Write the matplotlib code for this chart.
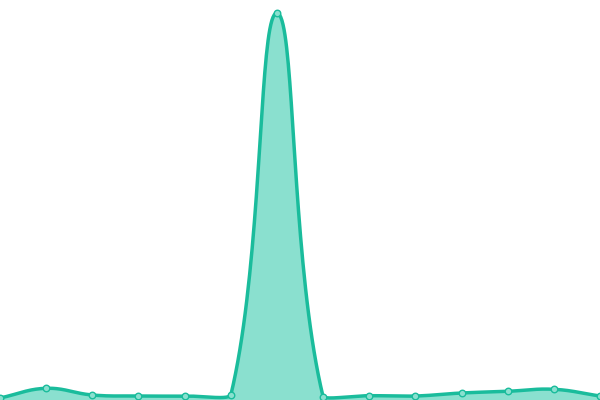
import numpy as np
import matplotlib
matplotlib.use("Agg")
import matplotlib.pyplot as plt

# values (one point per step)
steps = list(range(14))
values = [2, 11.7, 5, 4, 4, 4.7, 387, 3.3, 4.3, 4, 7, 8.7, 10.7, 4]

line_col = "#1abc9c"
fill_col = "#8ae0cf"

W, H = 600, 400
XMAX, YMAX = 13, 400


def spline_curve(xs, ys, tension=0.4, n=40):
    # bezier spline with tension, control points clamped to the plot area
    px = np.asarray(xs, float) * W / XMAX
    py = np.asarray(ys, float) * H / YMAX
    pts = np.column_stack([px, py])
    k = len(pts)
    cp_prev = pts.copy()
    cp_next = pts.copy()
    for i in range(k):
        a = pts[i - 1] if i > 0 else pts[i]
        b = pts[i]
        c = pts[i + 1] if i < k - 1 else pts[i]
        d01 = np.hypot(*(b - a))
        d12 = np.hypot(*(c - b))
        tot = d01 + d12
        s01 = d01 / tot if tot else 0
        s12 = d12 / tot if tot else 0
        cp_prev[i] = b - tension * s01 * (c - a)
        cp_next[i] = b + tension * s12 * (c - a)
    for cp in (cp_prev, cp_next):
        cp[:, 0] = np.clip(cp[:, 0], 0, W)
        cp[:, 1] = np.clip(cp[:, 1], 0, H)
    u = np.linspace(0, 1, n)[:, None]
    out = []
    for i in range(k - 1):
        p0, p1, p2, p3 = pts[i], cp_next[i], cp_prev[i + 1], pts[i + 1]
        seg = (1 - u)**3 * p0 + 3 * (1 - u)**2 * u * p1 + 3 * (1 - u) * u**2 * p2 + u**3 * p3
        out.append(seg)
    out = np.vstack(out)
    return out[:, 0] * XMAX / W, out[:, 1] * YMAX / H


cx, cy = spline_curve(steps, values)

fig = plt.figure(figsize=(6, 4), dpi=100)
ax = fig.add_axes([0, 0, 1, 1])
ax.fill_between(cx, cy, 0, color=fill_col, lw=0)
ax.plot(cx, cy, color=line_col, lw=2.5, solid_capstyle="round")
ax.scatter(steps, values, s=22, facecolor=fill_col, edgecolor=line_col, linewidth=1, zorder=3)
ax.set_xlim(0, XMAX)
ax.set_ylim(0, YMAX)
ax.axis("off")
fig.savefig("out.png", dpi=100)
